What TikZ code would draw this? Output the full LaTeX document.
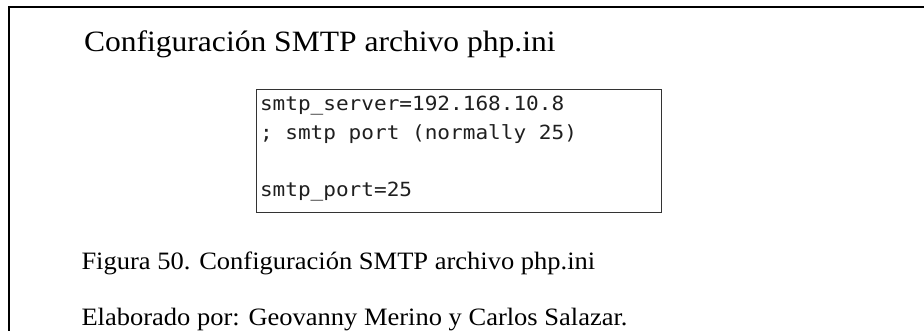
\documentclass[tikz,border=0pt]{standalone}
\usepackage{fontspec}
\setmainfont{Liberation Serif}
\newfontfamily\titlefont[FakeStretch=1.07]{Liberation Serif}
\newfontfamily\capfont[FakeStretch=1.06]{Liberation Serif}
\newfontfamily\codefont[FakeStretch=1.08]{DejaVu Sans Mono}
\begin{document}
\begin{tikzpicture}[x=1pt,y=-1pt]
\tikzset{
  txt/.style={inner sep=0pt, outer sep=0pt, anchor=base west},
  titletxt/.style={txt, font=\titlefont\fontsize{29.5}{31}\selectfont},
  captxt/.style={txt, font=\capfont\fontsize{25}{27}\selectfont},
  codetxt/.style={txt, font=\codefont\fontsize{19.5}{21}\selectfont, text=black!88},
  codebox/.style={draw=black!80, line width=1pt, fill=white, inner sep=0pt,
    anchor=north west, minimum width=405pt, minimum height=123pt}}
\useasboundingbox (0,0) rectangle (924,330);
\fill[white] (0,0) rectangle (924,330);
% page frame, running off the right and bottom edges
\begin{scope}
\clip (0,0) rectangle (924,330);
\draw[line width=1.6pt] (8.7,6.7) rectangle (940,345);
\end{scope}
% heading
\node[titletxt] (title) at (84,51) {Configuración SMTP archivo php.ini};
% php.ini excerpt
\node[codebox] (code) at (255.5,89) {};
\node[codetxt] (l1) at (260,110.5) {smtp\_server=192.168.10.8};
\node[codetxt] (l2) at (260,139) {; smtp port (normally 25)};
\node[codetxt] (l3) at (260,196) {smtp\_port=25};
% caption and credits
\node[captxt] (cap) at (81.5,269) {Figura 50. Configuración SMTP archivo php.ini};
\node[captxt] (cred) at (81.5,325) {Elaborado por: Geovanny Merino y Carlos Salazar.};
\end{tikzpicture}
\end{document}
